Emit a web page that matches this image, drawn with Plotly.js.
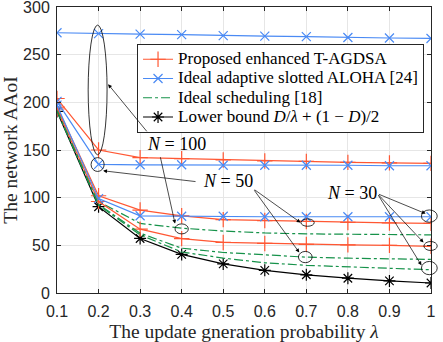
<!DOCTYPE html>
<html>
<head>
<meta charset="utf-8">
<script src="https://cdn.plot.ly/plotly-3.0.1.min.js"></script>
<style>
  html, body { margin: 0; padding: 0; background: #fff; }
  #chart { width: 443px; height: 342px; }
</style>
</head>
<body>
<div id="chart"></div>
<script>
// update generation probability (x axis)
const lambda = [0.1, 0.2, 0.3, 0.4, 0.5, 0.6, 0.7, 0.8, 0.9, 1.0];

// Proposed enhanced T-AGDSA
const propN100 = [204, 150, 142, 141, 139.5, 138.5, 138, 137, 136.5, 136];
const propN50 = [195, 102, 87, 81, 77, 76, 75, 74, 73.5, 73];
const propN30 = [193, 96, 67, 57, 53, 52, 51, 50.5, 50, 49];

// Ideal adaptive slotted ALOHA [24]
const alohaN100 = [273, 272, 271.5, 271, 270, 269.5, 269, 268, 267.5, 267];
const alohaN50 = [201, 135, 134.5, 134.5, 134, 134, 134, 134, 133.5, 133.5];
const alohaN30 = [197, 99, 81, 80.5, 80.5, 80, 80, 80, 80, 80];

// Ideal scheduling [18]
const schedN100 = [192, 96, 73, 68, 65, 63, 62, 61.5, 61.2, 61];
const schedN50 = [191.5, 93, 62.7, 47, 42.5, 40.4, 37.6, 36.5, 35.8, 35.2];
const schedN30 = [191, 92, 61, 43, 36.6, 31.7, 29, 27.5, 26, 24.4];

// Lower bound
const lowerBound = [190.5, 90.5, 57.2, 40.5, 30.5, 23.8, 19.1, 15.5, 12.7, 10.5];

const legendNames = [
  "Proposed enhanced T-AGDSA",
  "Ideal adaptive slotted ALOHA [24]",
  "Ideal scheduling [18]",
  "Lower bound <i>D</i>/<i>λ</i> + (1 − <i>D</i>)/2"
];

const RED = "#ff5733";
const BLUE = "#4a8af4";
const GREEN = "#16924a";

// legend rows are spaced by legend.font.size, the text itself is drawn bigger
function big(s) { return '<span style="font-family:Liberation Serif,serif;font-size:17px">' + s + '</span>'; }

function mk(y, name, color, symbol, msize, dash, show) {
  let t = {
    x: lambda, y: y, name: big(name), showlegend: show,
    mode: symbol ? "lines+markers" : "lines",
    line: {color: color, width: 1.2, dash: dash || "solid"},
    hoverinfo: "none"
  };
  if (symbol) {
    t.marker = {symbol: symbol, size: msize, color: color, line: {color: color, width: 1.2}};
  }
  return t;
}

const traces = [
  mk(propN100, legendNames[0], RED, "cross-thin-open", 11, null, true),
  mk(alohaN100, legendNames[1], BLUE, "x-thin-open", 9, null, true),
  mk(schedN100, legendNames[2], GREEN, null, 0, "dashdot", true),
  mk(lowerBound, legendNames[3], "#000", "asterisk-open", 10, null, true),
  mk(propN50, legendNames[0], RED, "cross-thin-open", 11, null, false),
  mk(propN30, legendNames[0], RED, "cross-thin-open", 11, null, false),
  mk(alohaN50, legendNames[1], BLUE, "x-thin-open", 9, null, false),
  mk(alohaN30, legendNames[1], BLUE, "x-thin-open", 9, null, false),
  mk(schedN50, legendNames[2], GREEN, null, 0, "dashdot", false),
  mk(schedN30, legendNames[2], GREEN, null, 0, "dashdot", false)
];

// data -> paper, so the ellipses are not clipped at the axes
function px(x) { return (x - 0.1) / 0.9; }
function py(y) { return y / 300; }

function ellipse(x0, x1, y0, y1) {
  return {type: "circle", xref: "paper", yref: "paper",
    x0: px(x0), x1: px(x1), y0: py(y0), y1: py(y1),
    line: {color: "#000", width: 0.8}};
}

const shapes = [
  ellipse(0.175, 0.2205, 145, 281),   // N = 100
  ellipse(0.182, 0.2135, 127.5, 142), // N = 50 at 0.2
  ellipse(0.384, 0.416, 62, 72.5),    // N = 100 at 0.4
  ellipse(0.687, 0.719, 70, 77.7),    // N = 50 red
  ellipse(0.681, 0.714, 31.8, 43.6),  // N = 50 green
  ellipse(0.977, 1.015, 74.2, 87.1),  // N = 30 blue
  ellipse(0.983, 1.015, 44.6, 54),    // N = 30 red
  ellipse(0.977, 1.015, 19.2, 33.1)   // N = 30 green
];

const serif = "Liberation Serif, Times New Roman, serif";
const sans = "Liberation Sans, Arial, sans-serif";

function arrow(x, y, ax, ay) {
  return {x: x, y: y, ax: ax, ay: ay, xref: "x", yref: "y", axref: "x", ayref: "y",
    text: "", showarrow: true, arrowhead: 2, arrowsize: 1.1, arrowwidth: 0.7, arrowcolor: "#000",
    standoff: 0, startstandoff: 0};
}
function label(x, y, txt) {
  return {x: x, y: y, xref: "x", yref: "y", text: txt, showarrow: false,
    font: {family: serif, size: 18, color: "#000"}, bgcolor: "rgba(255,255,255,0)"};
}

const annotations = [
  arrow(0.223, 219, 0.319, 168),
  arrow(0.384, 72.8, 0.348, 144),
  arrow(0.211, 128.2, 0.437, 116.7),
  arrow(0.686, 73.9, 0.572, 109.4),
  arrow(0.683, 42.5, 0.572, 109.4),
  arrow(0.987, 83.3, 0.871, 104.2),
  arrow(0.982, 53, 0.871, 104.2),
  arrow(0.977, 29, 0.871, 104.2),
  label(0.387, 156.4, "<i>N</i> = 100"),
  label(0.512, 117.8, "<i>N</i> = 50"),
  label(0.811, 105.2, "<i>N</i> = 30")
];

const axisCommon = {
  showgrid: true, gridcolor: "#e6e6e6", gridwidth: 1,
  zeroline: false, showline: true, linecolor: "#262626", linewidth: 1,
  mirror: "allticks", ticks: "inside", ticklen: 4, tickwidth: 1, tickcolor: "#262626",
  tickfont: {family: sans, size: 16, color: "#262626"}, fixedrange: true,
  ticklabeloverflow: "allow"
};

const layout = {
  width: 443, height: 342,
  margin: {l: 57, r: 12, t: 7, b: 49},
  paper_bgcolor: "#fff", plot_bgcolor: "#fff",
  xaxis: Object.assign({}, axisCommon, {
    range: [0.1, 1], tickvals: lambda, ticktext: ["0.1","0.2","0.3","0.4","0.5","0.6","0.7","0.8","0.9","1"],
    ticklabelstandoff: 4,
    title: {text: "The update gneration probability <i>λ</i>", font: {family: serif, size: 19.5, color: "#262626"}, standoff: 6}
  }),
  yaxis: Object.assign({}, axisCommon, {
    range: [0, 300], tickvals: [0, 50, 100, 150, 200, 250, 300],
    ticklabelstandoff: 3,
    title: {text: "The network AAoI", font: {family: serif, size: 19.5, color: "#262626"}, standoff: 5}
  }),
  legend: {
    x: 0.214, y: 0.872, xanchor: "left", yanchor: "top",
    bgcolor: "#fff", bordercolor: "#262626", borderwidth: 1,
    font: {family: serif, size: 12.5, color: "#000"},
    tracegroupgap: 0, itemwidth: 30
  },
  shapes: shapes,
  annotations: annotations,
  showlegend: true
};

Plotly.newPlot("chart", traces, layout, {staticPlot: true});
</script>
</body>
</html>
